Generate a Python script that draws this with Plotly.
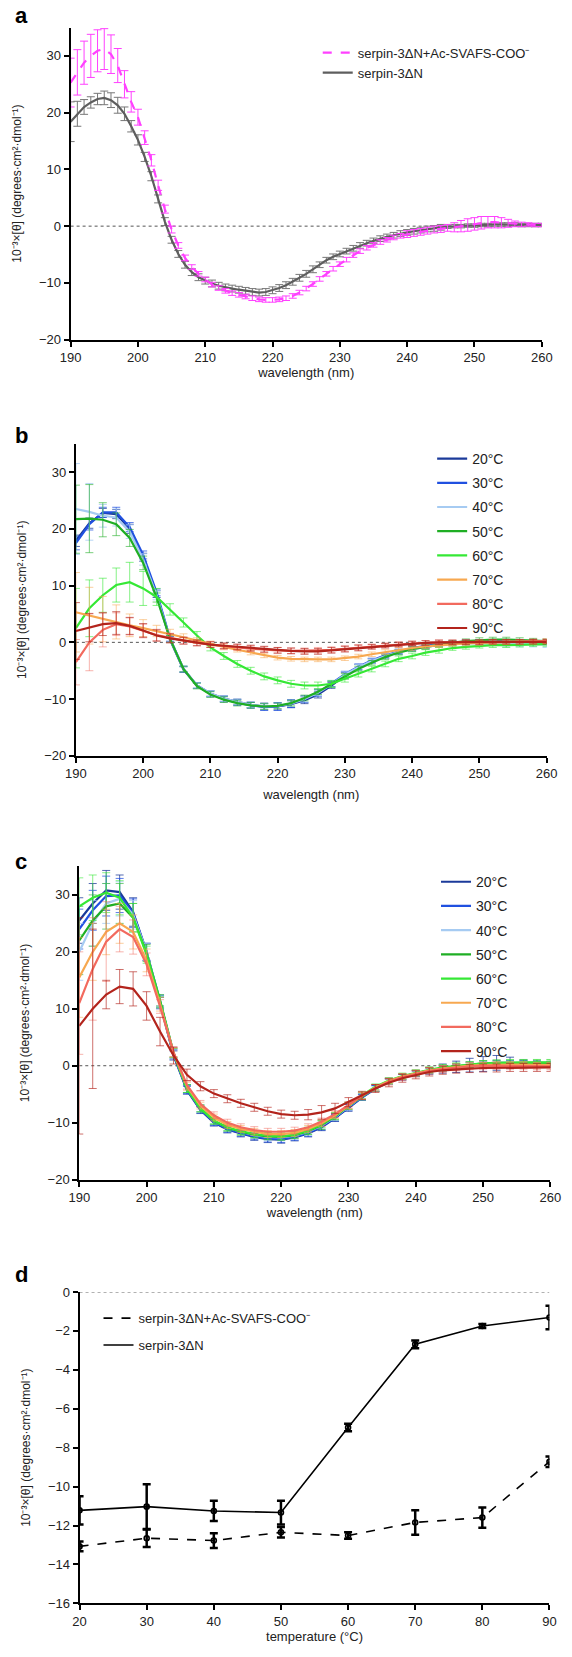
import plotly.graph_objects as go

# ---------------- data ----------------
wl_a = list(range(190, 261))  # 1 nm steps
pep_a = [25.3, 27.1, 28.8, 30.0, 30.9, 31.2, 30.3, 28.3, 25.0, 21.9,
         19.2, 15.6, 11.6, 7.2, 3.0, -0.6, -3.4, -5.6, -7.2, -8.4,
         -9.4, -10.3, -10.9, -11.4, -11.8, -12.1, -12.4, -12.7, -12.9, -13.0,
         -13.0, -12.9, -12.7, -12.3, -11.7, -11.0, -10.2, -9.3, -8.4, -7.5,
         -6.7, -5.9, -5.1, -4.4, -3.8, -3.3, -2.8, -2.4, -2.0, -1.7,
         -1.4, -1.2, -1.0, -0.8, -0.6, -0.5, -0.3, -0.2, 0.0, 0.2,
         0.4, 0.6, 0.7, 0.7, 0.6, 0.5, 0.4, 0.3, 0.3, 0.2,
         0.2]
pep_a_err = [4.3, 4.0, 3.8, 3.8, 3.7, 3.6, 3.4, 3.0, 2.4, 1.8,
             1.4, 1.2, 1.0, 0.9, 0.7, 0.6, 0.5, 0.5, 0.4, 0.4,
             0.4, 0.4, 0.4, 0.4, 0.4, 0.4, 0.4, 0.4, 0.4, 0.4,
             0.4, 0.4, 0.4, 0.4, 0.4, 0.4, 0.4, 0.4, 0.4, 0.4,
             0.4, 0.4, 0.4, 0.4, 0.4, 0.4, 0.4, 0.4, 0.4, 0.4,
             0.6, 0.6, 0.6, 0.6, 0.6, 0.6, 0.6, 0.8, 1.0, 1.1,
             1.1, 1.1, 1.0, 1.0, 0.9, 0.7, 0.5, 0.4, 0.3, 0.3,
             0.3]
free_a = [18.4, 19.8, 21.0, 21.8, 22.4, 22.6, 22.2, 21.3, 19.8, 17.6,
          15.2, 12.2, 8.8, 4.8, 0.8, -2.4, -4.9, -6.8, -8.1, -9.0,
          -9.6, -10.1, -10.5, -10.8, -11.0, -11.2, -11.4, -11.6, -11.7, -11.6,
          -11.3, -10.9, -10.4, -9.8, -9.1, -8.4, -7.6, -6.8, -6.0, -5.4,
          -4.9, -4.4, -3.9, -3.4, -3.0, -2.6, -2.2, -1.9, -1.6, -1.3,
          -1.1, -0.9, -0.7, -0.5, -0.4, -0.2, -0.1, 0.0, 0.0, 0.1,
          0.1, 0.2, 0.2, 0.3, 0.3, 0.3, 0.3, 0.2, 0.2, 0.2,
          0.2]
free_a_err = [3.5, 2.2, 1.3, 1.0, 1.0, 1.2, 1.3, 1.4, 1.2, 1.0,
              0.9, 0.8, 0.8, 0.7, 0.7, 0.6, 0.6, 0.6, 0.6, 0.6,
              0.6, 0.6, 0.6, 0.6, 0.6, 0.6, 0.6, 0.6, 0.6, 0.6,
              0.6, 0.6, 0.6, 0.6, 0.6, 0.6, 0.6, 0.5, 0.5, 0.5,
              0.5, 0.5, 0.5, 0.5, 0.5, 0.5, 0.5, 0.5, 0.5, 0.5,
              0.5, 0.5, 0.5, 0.5, 0.5, 0.5, 0.3, 0.3, 0.3, 0.3,
              0.3, 0.3, 0.3, 0.3, 0.3, 0.3, 0.3, 0.3, 0.3, 0.3,
              0.3]

wl_bc = list(range(190, 261, 2))  # 2 nm steps
temps = ["20°C", "30°C", "40°C", "50°C", "60°C", "70°C", "80°C", "90°C"]

# panel b : serpin-3ΔN
b20 = [17.9, 21.0, 22.8, 22.6, 20.0, 15.0, 8.5, 0.5, -4.8, -7.6, -9.0, -9.9, -10.5, -11.0, -11.3, -11.3, -10.9, -10.2,
       -9.2, -7.6, -5.8, -4.4, -3.3, -2.4, -1.7, -1.1, -0.7, -0.3, -0.1, 0.1, 0.2, 0.2, 0.2, 0.1, 0.1, 0.0]
b30 = [17.5, 20.8, 22.9, 22.9, 20.3, 15.4, 8.8, 0.7, -4.7, -7.6, -9.1, -10.0, -10.6, -11.1, -11.4, -11.3, -10.8, -10.0,
       -8.9, -7.3, -5.6, -4.3, -3.2, -2.3, -1.6, -1.0, -0.6, -0.3, -0.1, 0.1, 0.2, 0.2, 0.1, 0.1, 0.0, 0.0]
b40 = [23.5, 23.0, 22.3, 22.0, 19.5, 14.6, 8.3, 0.6, -4.7, -7.6, -9.0, -9.9, -10.5, -11.0, -11.3, -11.2, -10.8, -10.0,
       -8.9, -7.4, -5.7, -4.4, -3.3, -2.4, -1.7, -1.2, -0.8, -0.5, -0.3, -0.2, -0.2, -0.2, -0.3, -0.3, -0.3, -0.4]
b50 = [21.7, 21.8, 21.6, 20.8, 18.4, 14.0, 7.9, 0.6, -4.7, -7.7, -9.2, -10.1, -10.7, -11.1, -11.3, -11.2, -10.7, -9.8,
       -8.7, -7.4, -6.0, -4.7, -3.6, -2.6, -1.8, -1.2, -0.8, -0.4, -0.1, 0.2, 0.4, 0.5, 0.5, 0.4, 0.3, 0.2]
b60 = [2.5, 6.0, 8.3, 10.1, 10.6, 9.5, 8.0, 5.8, 3.5, 1.2, -0.9, -2.4, -3.8, -5.0, -6.0, -6.7, -7.3, -7.6,
       -7.6, -7.3, -6.4, -5.5, -4.7, -3.8, -2.9, -2.4, -1.8, -1.4, -1.0, -0.8, -0.6, -0.5, -0.5, -0.4, -0.3, -0.3]
b70 = [5.3, 4.7, 4.1, 3.6, 3.0, 2.5, 2.0, 1.5, 0.9, 0.3, -0.3, -0.8, -1.3, -1.8, -2.3, -2.7, -2.9, -3.0,
       -3.0, -3.0, -2.8, -2.5, -2.1, -1.7, -1.3, -1.0, -0.7, -0.5, -0.3, -0.2, -0.1, 0.0, 0.0, 0.1, 0.1, 0.2]
b80 = [-3.5, 0.0, 2.2, 3.2, 2.8, 2.0, 1.3, 0.8, 0.3, -0.1, -0.4, -0.7, -0.9, -1.1, -1.3, -1.4, -1.5, -1.5,
       -1.4, -1.3, -1.1, -0.9, -0.7, -0.5, -0.3, -0.2, -0.1, 0.0, 0.0, 0.1, 0.1, 0.1, 0.1, 0.1, 0.2, 0.2]
b90 = [2.0, 2.6, 3.2, 3.4, 2.9, 2.1, 1.2, 0.7, 0.3, -0.1, -0.4, -0.6, -0.8, -1.0, -1.2, -1.4, -1.5, -1.6,
       -1.6, -1.4, -1.2, -1.0, -0.8, -0.6, -0.4, -0.2, -0.1, 0.0, 0.0, 0.0, 0.0, 0.1, 0.1, 0.1, 0.1, 0.1]

b20_err = [1.0, 0.9, 0.8, 0.8, 0.8, 0.7, 0.6, 0.5, 0.5, 0.5, 0.5, 0.5, 0.5, 0.5, 0.6, 0.6, 0.6, 0.6,
           0.6, 0.5, 0.5, 0.5, 0.4, 0.4, 0.4, 0.4, 0.4, 0.3, 0.3, 0.3, 0.3, 0.3, 0.3, 0.3, 0.3, 0.3]
b30_err = [1.2, 1.0, 0.9, 0.9, 0.8, 0.7, 0.6, 0.5, 0.5, 0.5, 0.5, 0.5, 0.5, 0.5, 0.6, 0.7, 0.7, 0.6,
           0.6, 0.5, 0.5, 0.5, 0.4, 0.4, 0.4, 0.4, 0.4, 0.3, 0.3, 0.3, 0.3, 0.3, 0.3, 0.3, 0.3, 0.3]
b40_err = [8.0, 5.0, 2.0, 1.5, 1.2, 1.0, 0.8, 0.6, 0.5, 0.5, 0.5, 0.5, 0.5, 0.5, 0.5, 0.5, 0.5, 0.5,
           0.5, 0.5, 0.5, 0.5, 0.4, 0.4, 0.4, 0.4, 0.4, 0.4, 0.4, 0.4, 0.4, 0.4, 0.5, 0.5, 0.5, 0.5]
b50_err = [6.0, 6.0, 3.0, 2.0, 1.5, 1.2, 0.8, 0.6, 0.5, 0.5, 0.5, 0.5, 0.5, 0.5, 0.5, 0.5, 0.5, 0.5,
           0.5, 0.5, 0.5, 0.5, 0.4, 0.4, 0.4, 0.4, 0.4, 0.4, 0.4, 0.4, 0.4, 0.4, 0.4, 0.4, 0.4, 0.4]
b60_err = [7.0, 5.0, 3.0, 3.0, 3.5, 3.0, 1.5, 1.0, 0.8, 0.7, 0.6, 0.6, 0.6, 0.6, 0.6, 0.6, 0.6, 0.6,
           0.6, 0.6, 0.6, 0.6, 0.5, 0.5, 0.5, 0.5, 0.5, 0.5, 0.4, 0.4, 0.4, 0.4, 0.4, 0.4, 0.4, 0.4]
b70_err = [7.0, 5.0, 4.0, 3.0, 2.0, 1.5, 1.0, 0.8, 0.6, 0.5, 0.5, 0.5, 0.4, 0.4, 0.4, 0.4, 0.4, 0.4,
           0.4, 0.4, 0.4, 0.4, 0.4, 0.4, 0.4, 0.4, 0.4, 0.4, 0.4, 0.4, 0.4, 0.4, 0.4, 0.4, 0.4, 0.4]
b80_err = [4.0, 5.0, 3.0, 2.0, 1.5, 1.2, 1.0, 0.8, 0.6, 0.5, 0.5, 0.5, 0.5, 0.5, 0.5, 0.5, 0.5, 0.5,
           0.5, 0.5, 0.5, 0.5, 0.4, 0.4, 0.4, 0.4, 0.4, 0.4, 0.4, 0.4, 0.4, 0.4, 0.4, 0.4, 0.4, 0.4]
b90_err = [5.0, 2.5, 2.0, 2.0, 1.5, 1.2, 1.0, 0.8, 0.6, 0.5, 0.5, 0.5, 0.5, 0.5, 0.5, 0.5, 0.5, 0.5,
           0.5, 0.5, 0.5, 0.5, 0.4, 0.4, 0.4, 0.4, 0.4, 0.4, 0.4, 0.4, 0.4, 0.4, 0.4, 0.4, 0.4, 0.4]

# panel c : serpin-3ΔN + Ac-SVAFS-COO-
c20 = [25.5, 28.5, 30.8, 30.5, 27.0, 20.0, 11.0, 1.8, -4.3, -7.8, -10.0, -11.2, -11.9, -12.5, -12.9, -13.0, -12.6, -11.9,
       -10.8, -9.2, -7.4, -5.6, -4.0, -2.8, -2.0, -1.4, -0.9, -0.5, -0.2, 0.1, 0.3, 0.5, 0.5, 0.4, 0.3, 0.2]
c30 = [24.0, 27.3, 29.8, 29.9, 26.8, 20.0, 11.3, 2.0, -4.2, -7.7, -9.9, -11.1, -11.8, -12.4, -12.8, -12.9, -12.5, -11.8,
       -10.7, -9.1, -7.3, -5.5, -4.0, -2.8, -2.0, -1.4, -0.9, -0.5, -0.2, 0.1, 0.3, 0.4, 0.4, 0.4, 0.3, 0.2]
c40 = [20.0, 25.0, 28.5, 29.3, 26.5, 20.0, 11.5, 2.2, -4.0, -7.5, -9.7, -10.9, -11.6, -12.2, -12.5, -12.6, -12.3, -11.6,
       -10.5, -9.0, -7.2, -5.4, -3.9, -2.7, -1.9, -1.3, -0.8, -0.4, -0.1, 0.1, 0.3, 0.3, 0.3, 0.3, 0.2, 0.2]
c50 = [22.0, 25.5, 28.0, 28.5, 26.0, 19.8, 11.5, 2.3, -4.0, -7.5, -9.7, -10.9, -11.6, -12.1, -12.4, -12.5, -12.2, -11.5,
       -10.4, -8.9, -7.1, -5.4, -3.9, -2.7, -1.9, -1.3, -0.8, -0.4, -0.1, 0.2, 0.4, 0.5, 0.5, 0.5, 0.5, 0.5]
c60 = [28.0, 29.5, 30.4, 29.5, 26.0, 19.5, 11.2, 2.2, -4.0, -7.5, -9.6, -10.8, -11.5, -12.0, -12.3, -12.4, -12.1, -11.4,
       -10.3, -8.8, -7.0, -5.2, -3.7, -2.6, -1.8, -1.2, -0.7, -0.3, 0.0, 0.2, 0.4, 0.5, 0.6, 0.6, 0.6, 0.6]
c70 = [15.5, 20.0, 23.5, 25.0, 23.5, 18.5, 10.8, 2.3, -3.6, -7.0, -9.1, -10.4, -11.1, -11.6, -12.0, -12.0, -11.8, -11.1,
       -10.1, -8.7, -7.0, -5.3, -3.8, -2.7, -1.9, -1.3, -0.8, -0.5, -0.2, 0.0, 0.1, 0.2, 0.2, 0.2, 0.1, 0.1]
c80 = [11.0, 17.0, 21.8, 24.0, 22.6, 17.8, 10.4, 2.4, -3.4, -6.7, -8.7, -10.0, -10.8, -11.3, -11.6, -11.6, -11.4, -10.8,
       -9.8, -8.5, -6.9, -5.3, -3.9, -2.8, -2.0, -1.4, -0.9, -0.6, -0.3, -0.1, 0.0, 0.0, 0.0, 0.0, -0.1, -0.1]
c90 = [7.0, 10.0, 12.5, 13.9, 13.5, 10.5, 6.0, 1.8, -1.6, -3.6, -4.9, -5.8, -6.6, -7.3, -8.0, -8.5, -8.7, -8.6,
       -8.2, -7.5, -6.4, -5.2, -4.0, -3.0, -2.2, -1.6, -1.1, -0.8, -0.6, -0.5, -0.4, -0.4, -0.3, -0.3, -0.3, -0.3]

c20_err = [4.0, 3.5, 3.5, 3.0, 2.5, 1.5, 1.0, 0.8, 0.7, 0.6, 0.6, 0.6, 0.6, 0.6, 0.6, 0.6, 0.6, 0.6,
           0.6, 0.6, 0.6, 0.5, 0.5, 0.5, 0.5, 0.5, 0.6, 0.8, 1.0, 1.2, 1.3, 1.3, 1.0, 0.6, 0.5, 0.5]
c30_err = [3.5, 3.5, 3.5, 3.0, 2.5, 1.5, 1.0, 0.8, 0.7, 0.6, 0.6, 0.6, 0.6, 0.6, 0.6, 0.6, 0.6, 0.6,
           0.6, 0.6, 0.6, 0.5, 0.5, 0.5, 0.5, 0.5, 0.5, 0.5, 0.5, 0.5, 0.5, 0.5, 0.5, 0.5, 0.5, 0.5]
c40_err = [5.0, 4.0, 3.5, 3.0, 2.5, 1.5, 1.0, 0.8, 0.7, 0.6, 0.6, 0.6, 0.6, 0.6, 0.6, 0.6, 0.6, 0.6,
           0.6, 0.6, 0.6, 0.6, 0.6, 0.6, 0.5, 0.5, 0.5, 0.5, 0.5, 0.5, 0.5, 0.5, 0.5, 0.5, 0.5, 0.5]
c50_err = [6.0, 4.5, 4.0, 3.5, 2.5, 1.5, 1.0, 0.8, 0.7, 0.6, 0.6, 0.6, 0.6, 0.6, 0.6, 0.6, 0.6, 0.6,
           0.8, 0.6, 0.6, 0.6, 0.6, 0.5, 0.5, 0.5, 0.5, 0.5, 0.5, 0.5, 0.5, 0.5, 0.5, 0.5, 0.5, 0.5]
c60_err = [5.0, 4.0, 3.5, 3.0, 2.5, 1.5, 1.0, 0.8, 0.7, 0.6, 0.6, 0.6, 0.6, 0.6, 0.6, 0.6, 0.6, 0.6,
           0.6, 0.6, 0.6, 0.6, 0.5, 0.5, 0.5, 0.5, 0.5, 0.5, 0.5, 0.5, 0.5, 0.5, 0.5, 0.5, 0.5, 0.5]
c70_err = [7.0, 5.0, 4.0, 3.5, 3.0, 2.0, 1.2, 0.8, 0.7, 0.6, 0.6, 0.6, 0.6, 0.6, 0.6, 0.6, 0.6, 0.6,
           0.6, 0.6, 0.6, 0.6, 0.5, 0.5, 0.5, 0.5, 0.5, 0.5, 0.5, 0.5, 0.5, 0.5, 0.5, 0.5, 0.5, 0.5]
c80_err = [9.0, 9.0, 7.0, 4.0, 3.0, 2.0, 1.2, 0.8, 0.7, 0.6, 0.6, 0.6, 0.6, 0.6, 0.6, 0.6, 0.6, 0.6,
           0.6, 0.6, 0.6, 0.6, 0.6, 0.6, 0.6, 0.6, 0.6, 0.6, 0.6, 0.6, 0.6, 0.6, 0.6, 0.6, 0.6, 0.6]
c90_err = [19.0, 14.0, 2.5, 3.0, 3.0, 2.5, 2.5, 1.5, 1.0, 0.8, 0.7, 0.7, 0.7, 0.7, 0.7, 0.7, 0.7, 0.9,
           1.2, 0.9, 0.8, 0.7, 0.7, 0.7, 0.7, 0.7, 0.7, 0.7, 0.7, 0.7, 0.7, 0.7, 0.7, 0.7, 0.7, 0.7]

# panel d : thermal melt
temp_d = [20, 30, 40, 50, 60, 70, 80, 90]
pep_d = [-13.07, -12.65, -12.77, -12.35, -12.51, -11.84, -11.59, -8.72]
pep_d_err = [0.25, 0.45, 0.38, 0.27, 0.17, 0.63, 0.52, 0.27]
free_d = [-11.22, -11.03, -11.25, -11.33, -6.96, -2.69, -1.75, -1.31]
free_d_err = [0.73, 1.15, 0.52, 0.61, 0.19, 0.2, 0.1, 0.6]

# ---------------- styling ----------------
FONT = "Liberation Sans, Arial, Helvetica, sans-serif"
line_cols = ["#1B3A9A", "#2050E0", "#A6CBF2", "#1FAE24", "#35E835", "#F7A850", "#F26A5E", "#B3241C"]
err_cols = ["rgba(27,58,154,0.75)", "rgba(32,80,224,0.75)", "rgba(166,203,242,0.8)", "rgba(31,174,36,0.6)",
            "rgba(53,232,53,0.6)", "rgba(247,168,80,0.55)", "rgba(242,106,94,0.5)", "rgba(179,36,28,0.65)"]
MAG = "#FF40FF"
GRAY = "#5E5E5E"

series_b = [b20, b30, b40, b50, b60, b70, b80, b90]
errs_b = [b20_err, b30_err, b40_err, b50_err, b60_err, b70_err, b80_err, b90_err]
series_c = [c20, c30, c40, c50, c60, c70, c80, c90]
errs_c = [c20_err, c30_err, c40_err, c50_err, c60_err, c70_err, c80_err, c90_err]

PEP = "serpin-3ΔN+Ac-SVAFS-COO⁻"
FREE = "serpin-3ΔN"

fig = go.Figure()

# panel a
fig.add_trace(go.Scatter(x=wl_a, y=free_a, mode="lines", name=FREE, legend="legend", legendrank=2,
                         legendgroup="a1",
                         line=dict(color=GRAY, width=2.2),
                         error_y=dict(type="data", array=free_a_err, color="#777777", thickness=1, width=4),
                         xaxis="x", yaxis="y"))
fig.add_trace(go.Scatter(x=wl_a, y=pep_a, mode="lines", name=PEP, legend="legend", legendrank=1,
                         legendgroup="a0",
                         line=dict(color=MAG, width=2.2, dash="dash"),
                         error_y=dict(type="data", array=pep_a_err, color=MAG, thickness=1, width=4),
                         xaxis="x", yaxis="y"))

# panels b and c
for i in range(8):
    fig.add_trace(go.Scatter(x=wl_bc, y=series_b[i], mode="lines", name=temps[i], legend="legend2",
                             legendgroup="b%d" % i,
                             line=dict(color=line_cols[i], width=2.2),
                             error_y=dict(type="data", array=errs_b[i], color=err_cols[i], thickness=1, width=4),
                             xaxis="x2", yaxis="y2"))
for i in range(8):
    fig.add_trace(go.Scatter(x=wl_bc, y=series_c[i], mode="lines", name=temps[i], legend="legend3",
                             legendgroup="c%d" % i,
                             line=dict(color=line_cols[i], width=2.2),
                             error_y=dict(type="data", array=errs_c[i], color=err_cols[i], thickness=1, width=4),
                             xaxis="x3", yaxis="y3"))

# panel d : lines (with legend) and point markers
fig.add_trace(go.Scatter(x=temp_d, y=pep_d, mode="lines", name=PEP, legend="legend4",
                         legendgroup="d0",
                         line=dict(color="black", width=1.6, dash="dash"),
                         error_y=dict(type="data", array=pep_d_err, color="black", thickness=2.5, width=4),
                         xaxis="x4", yaxis="y4"))
fig.add_trace(go.Scatter(x=temp_d, y=free_d, mode="lines", name=FREE, legend="legend4",
                         legendgroup="d1",
                         line=dict(color="black", width=1.6),
                         error_y=dict(type="data", array=free_d_err, color="black", thickness=2.5, width=4),
                         xaxis="x4", yaxis="y4"))
for ys in (pep_d, free_d):
    fig.add_trace(go.Scatter(x=temp_d, y=ys, mode="markers", showlegend=False, hoverinfo="skip",
                             marker=dict(symbol="circle-open", size=5, color="black", line=dict(width=1.6)),
                             xaxis="x4", yaxis="y4"))

H = 1657.0
W = 572.0

def xdom(l, r):
    return [l / W, r / W]

def ydom(bottom_px, top_px):
    return [1 - bottom_px / H, 1 - top_px / H]

YTITLE = "10⁻³×[θ] (degrees·cm²·dmol⁻¹)"

axis_common = dict(showline=True, linecolor="black", linewidth=2, ticks="outside", ticklen=5,
                   tickwidth=1.5, tickcolor="black", showgrid=False, zeroline=False,
                   tickfont=dict(family=FONT, size=13, color="#222"), mirror=False)

def xax(dom, anchor, rng, title, dtick, standoff):
    d = dict(axis_common)
    d.update(domain=dom, anchor=anchor, range=rng, dtick=dtick, tick0=rng[0],
             title=dict(text=title, font=dict(family=FONT, size=13, color="#222"), standoff=standoff))
    return d

def yax(dom, anchor, rng, dtick):
    d = dict(axis_common)
    d.update(domain=dom, anchor=anchor, range=rng, dtick=dtick, tick0=0,
             title=dict(text=YTITLE, font=dict(family=FONT, size=12, color="#222")))
    return d

layout = dict(
    width=572, height=1657, margin=dict(l=0, r=0, t=0, b=0),
    paper_bgcolor="white", plot_bgcolor="white",
    font=dict(family=FONT, color="#222"),
    xaxis=xax(xdom(62, 552), "y", [190, 260], "wavelength (nm)", 10, 2),
    yaxis=yax(ydom(335.7, 20.7), "x", [-20, 35], 10),
    xaxis2=xax(xdom(67.5, 557), "y2", [190, 260], "wavelength (nm)", 10, 9),
    yaxis2=yax(ydom(755.7, 440.7), "x2", [-20, 35], 10),
    xaxis3=xax(xdom(71, 561), "y3", [190, 260], "wavelength (nm)", 10, 2),
    yaxis3=yax(ydom(1183.3, 867.3), "x3", [-20, 35], 10),
    xaxis4=xax(xdom(71.3, 560), "y4", [20, 90], "temperature (°C)", 10, 2),
    yaxis4=yax(ydom(1611, 1296.7), "x4", [-16, 0], 2),
    legend=dict(x=319 / W, y=1 - 31 / H, xanchor="left", yanchor="top", bgcolor="rgba(0,0,0,0)",
                font=dict(family=FONT, size=13, color="#222"), traceorder="normal", tracegroupgap=3),
    legend2=dict(x=438 / W, y=1 - 440 / H, xanchor="left", yanchor="top", bgcolor="rgba(0,0,0,0)",
                 font=dict(family=FONT, size=14, color="#222"), tracegroupgap=3),
    legend3=dict(x=442 / W, y=1 - 867 / H, xanchor="left", yanchor="top", bgcolor="rgba(0,0,0,0)",
                 font=dict(family=FONT, size=14, color="#222"), tracegroupgap=3),
    legend4=dict(x=91 / W, y=1 - 1308 / H, xanchor="left", yanchor="top", bgcolor="rgba(0,0,0,0)",
                 font=dict(family=FONT, size=13, color="#222"), tracegroupgap=7),
    showlegend=True,
)
fig.update_layout(**layout)

# dotted zero lines
for xr, yr, x0, x1 in [("x", "y", 190, 260), ("x2", "y2", 190, 260), ("x3", "y3", 190, 260), ("x4", "y4", 20, 90)]:
    fig.add_shape(type="line", xref=xr, yref=yr, x0=x0, x1=x1, y0=0, y1=0,
                  line=dict(color="#555", width=1, dash="dot"), layer="below")

# panel letters
for letter, ypx in [("a", 9), ("b", 432), ("c", 862), ("d", 1279)]:
    fig.add_annotation(text="<b>%s</b>" % letter, x=2 / W, y=1 - ypx / H, xref="paper", yref="paper",
                       xanchor="left", yanchor="middle", showarrow=False,
                       font=dict(family=FONT, size=22, color="black"))

fig.write_html("out.html", config={"displayModeBar": False},
               post_script="document.body.style.margin='0';document.body.style.padding='0';"
                           "document.documentElement.style.overflow='hidden';")
